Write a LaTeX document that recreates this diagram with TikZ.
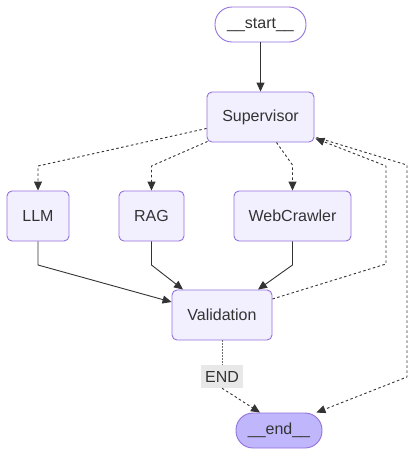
\documentclass[tikz,border=0pt]{standalone}
\usepackage{fontspec}
\setmainfont{Liberation Sans}
\usetikzlibrary{arrows.meta,calc}
\definecolor{nodefill}{HTML}{F2F0FF}
\definecolor{nodestroke}{HTML}{9370DB}
\definecolor{termfill}{HTML}{BFB6FC}
\definecolor{edgecol}{HTML}{333333}
\definecolor{lblbg}{HTML}{E8E8E8}
\begin{document}
\begin{tikzpicture}[x=1pt,y=1pt,
  box/.style={draw=nodestroke,fill=nodefill,line width=0.9pt,rounded corners=5pt,
    minimum height=50pt,inner sep=0pt,text=edgecol,font=\fontsize{16}{19}\selectfont},
  term/.style={draw=nodestroke,line width=0.9pt,rounded corners=17pt,
    minimum height=35pt,inner sep=0pt,text=edgecol,font=\fontsize{16}{19}\selectfont},
  solidedge/.style={draw=edgecol,line width=0.9pt,-{Triangle[length=9pt,width=8pt]}},
  dotedge/.style={draw=edgecol,line width=0.9pt,dash pattern=on 2.5pt off 2.5pt,-{Triangle[length=9pt,width=8pt]}},
  dotline/.style={draw=edgecol!70,line width=0.9pt,dash pattern=on 1.5pt off 1.5pt},
  lbl/.style={fill=lblbg,text=edgecol,inner sep=0pt,minimum width=42pt,minimum height=23pt,font=\fontsize{16}{19}\selectfont}
]
\useasboundingbox (0,0) rectangle (415,-456);
\node[term,fill=white,minimum width=91pt] (start) at (260.5,-24.5) {\_\_start\_\_};
\node[box,minimum width=107pt] (sup) at (260.5,-117) {Supervisor};
\node[box,minimum width=62pt] (llm) at (38,-216) {LLM};
\node[box,minimum width=65pt] (rag) at (151.5,-216) {RAG};
\node[box,minimum width=117pt] (web) at (292.5,-216) {WebCrawler};
\node[box,minimum width=100pt] (val) at (222,-315) {Validation};
\node[lbl] (endlbl) at (222,-376.5) {END};
\node[term,fill=termfill,minimum width=86pt] (end) at (279,-430.5) {\_\_end\_\_};

\draw[solidedge] (start) -- (sup);
\draw[dotedge] ($(sup.south west)+(0,14)$) -- (38,-166) -- (llm.north);
\draw[dotedge] ($(sup.south west)+(1,1)$) -- (151.5,-166) -- (rag.north);
\draw[dotedge] ($(sup.south)+(16,0)$) -- (292.5,-165) -- (web.north);
\draw[solidedge] (llm.south) -- (38,-265) -- ($(val.west)+(0,13)$);
\draw[solidedge] (rag.south) -- (151.5,-265) -- ($(val.north)+(-39,0)$);
\draw[solidedge] (web.south) -- (292.5,-265) -- ($(val.north)+(36,0)$);
\draw[dotedge] ($(val.east)+(0,16)$) -- (386,-264) -- (386,-166) -- ($(sup.south east)+(1,4)$);
\draw[dotedge] ($(sup.south east)+(2,5)$) -- (407,-165) -- (407,-377) -- ($(end.north east)+(-6,0)$);
\draw[dotline] (val.south) -- (endlbl.north);
\draw[dotedge] (endlbl.south) -- ($(end.north)+(-19,0)$);
\end{tikzpicture}
\end{document}
